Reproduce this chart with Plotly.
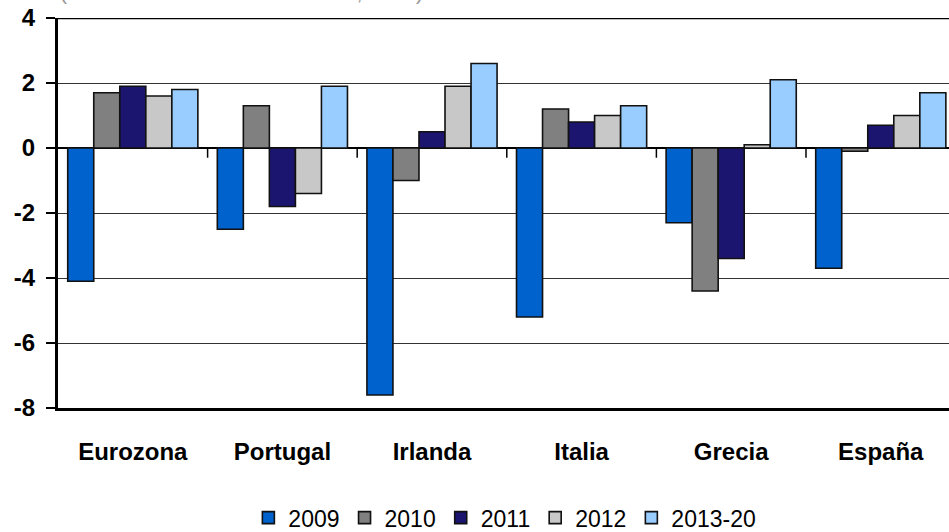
import plotly.graph_objects as go

# Country groups and yearly growth series (%)
countries = ["Eurozona", "Portugal", "Irlanda", "Italia", "Grecia", "España"]
series_names = ["2009", "2010", "2011", "2012", "2013-20"]
v2009 = [-4.1, -2.5, -7.6, -5.2, -2.3, -3.7]
v2010 = [1.7, 1.3, -1.0, 1.2, -4.4, -0.1]
v2011 = [1.9, -1.8, 0.5, 0.8, -3.4, 0.7]
v2012 = [1.6, -1.4, 1.9, 1.0, 0.1, 1.0]
v2013_20 = [1.8, 1.9, 2.6, 1.3, 2.1, 1.7]
y_ticks = [-8, -6, -4, -2, 0, 2, 4]

series_values = [v2009, v2010, v2011, v2012, v2013_20]
colors = ["#0062CC", "#808080", "#1C1570", "#C8C8C8", "#99CCFF"]

fig = go.Figure()
for name, vals, col in zip(series_names, series_values, colors):
    fig.add_trace(go.Bar(
        x=countries, y=vals, name=name,
        marker=dict(color=col, line=dict(color="#111111", width=1.6)),
    ))

# Small category ticks on the zero line between groups
for i in range(len(countries) - 1):
    fig.add_shape(type="line", xref="x", yref="y",
                  x0=i + 0.5, x1=i + 0.5, y0=0, y1=-0.3,
                  line=dict(color="black", width=1.5))

# Top frame line
fig.add_shape(type="line", xref="paper", yref="y", x0=0, x1=1, y0=4, y1=4,
              line=dict(color="black", width=2.5))

fig.add_annotation(text="(tasa de variación anual del PIB, en %)",
                   xref="paper", yref="paper", x=0, y=1, xanchor="left",
                   yanchor="bottom", yshift=12, showarrow=False,
                   font=dict(family="Liberation Sans, Arial", size=21, color="#999999"))

fig.update_layout(
    width=949, height=532,
    margin=dict(l=58, r=0, t=18, b=124),
    paper_bgcolor="white", plot_bgcolor="white",
    barmode="group", bargap=0.13, bargroupgap=0,
    font=dict(family="Liberation Sans, Arial", color="black"),
    showlegend=True,
    legend=dict(orientation="h", yref="container", xref="container",
                x=0.532, xanchor="center", y=0.027, yanchor="middle",
                font=dict(family="Liberation Sans, Arial", size=23, color="black"),
                itemwidth=30, tracegroupgap=0),
)
fig.update_xaxes(
    range=[-0.5, 5.456], showgrid=False, zeroline=False,
    showline=True, linecolor="black", linewidth=3,
    ticks="", ticklabelstandoff=20,
    tickfont=dict(family="Liberation Sans, Arial", size=24, color="black"),
    tickprefix="<b>", ticksuffix="</b>",
)
fig.update_yaxes(
    range=[-8, 4], tickvals=y_ticks, ticktext=[f"<b>{t}</b>" for t in y_ticks],
    showgrid=True, gridcolor="#333333", gridwidth=1,
    zeroline=True, zerolinecolor="black", zerolinewidth=1.5,
    showline=True, linecolor="black", linewidth=3,
    ticks="outside", ticklen=9, tickwidth=1.5, tickcolor="black",
    ticklabelstandoff=6,
    tickfont=dict(family="Liberation Sans, Arial", size=24, color="black"),
)

fig.write_html("out.html")
